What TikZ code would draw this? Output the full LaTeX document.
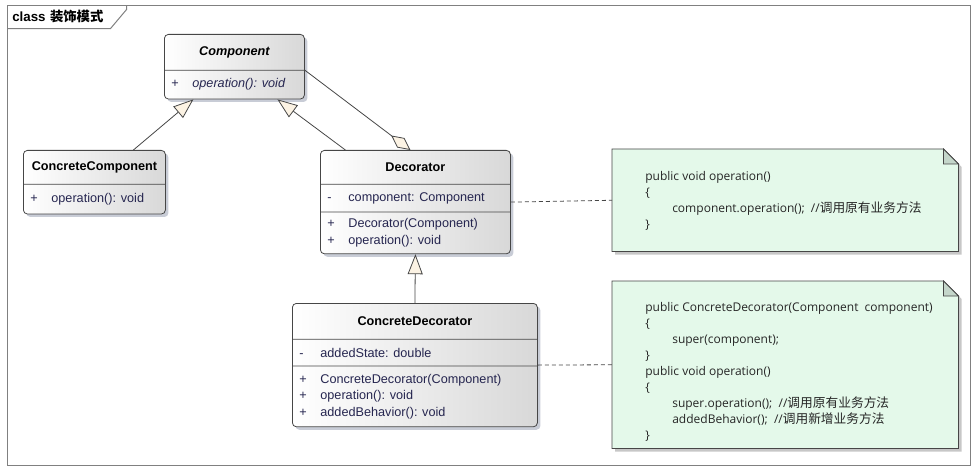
\documentclass[tikz,border=0pt]{standalone}
\usepackage{fontspec}
\setmainfont{Liberation Sans}
\newfontfamily\notefont{Open Sans}
\newfontfamily\cjk{Noto Sans CJK SC}
\newfontfamily\cjknote[Scale=1.06]{Noto Sans CJK SC}
\usepackage{xcolor}
\usepackage{tikz}
\usetikzlibrary{arrows.meta, positioning, shapes.multipart, shadows, backgrounds}

\definecolor{classgray}{RGB}{216,216,216}
\definecolor{classline}{RGB}{70,70,70}
\definecolor{shadowblue}{RGB}{200,204,214}
\definecolor{membertext}{RGB}{38,38,80}
\definecolor{notefill}{RGB}{228,249,234}
\definecolor{foldgreen}{RGB}{196,214,202}
\definecolor{genfill}{RGB}{252,243,228}
\definecolor{framegray}{RGB}{128,128,128}

% class compartments: width, height, content
\newcommand{\ctitle}[3]{\parbox[c][#2][c]{#1}{\centering\bfseries #3}}
\newcommand{\cpart}[3]{\parbox[c][#2][c]{#1}{\color{membertext}#3}}
\newcommand{\crow}[2]{\hspace*{5.25pt}\makebox[15.75pt][l]{#1}#2\par}
% note text: width, height, first baseline, lines
\newcommand{\notetext}[4]{\parbox[c][#2][t]{#1}{\leftskip=24.75pt\rule{0pt}{#3}#4}}
\newcommand{\ind}{\hspace*{20.25pt}}

\begin{document}
\begin{tikzpicture}[
    x=0.75pt, y=-0.75pt,
    umlclass/.style={rectangle split, rectangle split parts=#1,
                     draw=classline, line width=0.6pt, rounded corners=3pt,
                     inner sep=0pt, left color=white, right color=classgray,
                     drop shadow={shadow xshift=2.25pt, shadow yshift=-2.25pt,
                                  fill=shadowblue, opacity=1},
                     anchor=north west, font=\fontsize{9.5}{12.5}\selectfont},
    umlnote/.style={anchor=north west, inner sep=0pt, text=black!85,
                    font=\notefont\fontsize{9}{12}\selectfont},
    notebody/.style={draw=classline, line width=0.6pt, fill=notefill,
                     drop shadow={shadow xshift=2.25pt, shadow yshift=-2.25pt,
                                  fill=black!22, opacity=1}},
    notefold/.style={draw=classline, line width=0.6pt, fill=foldgreen},
    gen/.style={-{Triangle[length=15pt, width=11.25pt, fill=genfill]},
                draw=classline, line width=0.6pt},
    agg/.style={-{Diamond[length=18pt, width=9pt, fill=genfill]},
                draw=classline, line width=0.6pt},
    notelink/.style={draw=classline, line width=0.6pt,
                     dash pattern=on 3pt off 2.25pt},
    frameline/.style={draw=framegray, line width=0.75pt},
]
\useasboundingbox (0,0) rectangle (980,470);

% ── Frame ──────────────────────────────────────────────────────────
\node[frameline, anchor=north west, inner sep=0pt,
      minimum width=722.25pt, minimum height=345pt] (frame) at (7,5) {};
\node[anchor=north west, inner xsep=3.75pt, inner ysep=0pt,
      text width=69.75pt, align=left, minimum height=17.25pt,
      font=\fontsize{10}{12}\selectfont\bfseries]
      (tab) at (frame.north west) {class {\cjk 装饰模式}};
\draw[frameline] (tab.south west) -- (tab.south east) -- ++(16,-19) -- ++(0,-4);

% ── Classes ────────────────────────────────────────────────────────
\node[umlclass=2] (component) at (164,34)
    {\ctitle{105pt}{26.25pt}{\itshape Component}
     \nodepart{two}\cpart{105pt}{21pt}{\crow{+}{\itshape operation(): void}}};

\node[umlclass=2] (concomp) at (23,150)
    {\ctitle{106.5pt}{24.75pt}{ConcreteComponent}
     \nodepart{two}\cpart{106.5pt}{21.75pt}{\crow{+}{operation(): void}}};

\node[umlclass=3] (decorator) at (320,150)
    {\ctitle{142.5pt}{24.75pt}{Decorator}
     \nodepart{two}\cpart{142.5pt}{20.25pt}{\crow{-}{component: Component}}
     \nodepart{three}\cpart{142.5pt}{30.75pt}{\crow{+}{Decorator(Component)}%
                                               \crow{+}{operation(): void}}};

\node[umlclass=3] (concdec) at (292,303)
    {\ctitle{183.75pt}{26.25pt}{ConcreteDecorator}
     \nodepart{two}\cpart{183.75pt}{19.5pt}{\crow{-}{addedState: double}}
     \nodepart{three}\cpart{183.75pt}{45pt}{\crow{+}{ConcreteDecorator(Component)}%
                                            \crow{+}{operation(): void}%
                                            \crow{+}{addedBehavior(): void}}};

% ── Notes ──────────────────────────────────────────────────────────
\node[umlnote] (note1) at (612,149)
    {\notetext{259.5pt}{76.5pt}{23.25pt}{%
        public void operation()\\
        \{\\
        \ind component.operation();~ //{\cjknote 调用原有业务方法}\\
        \}}};

\node[umlnote] (note2) at (612,281)
    {\notetext{259.5pt}{125.25pt}{22.5pt}{%
        public ConcreteDecorator(Component~ component)\\
        \{\\
        \ind super(component);\\
        \}\\
        public void operation()\\
        \{\\
        \ind super.operation();~ //{\cjknote 调用原有业务方法}\\
        \ind addedBehavior();~ //{\cjknote 调用新增业务方法}\\
        \}}};

\begin{scope}[on background layer]
  \foreach \n in {note1, note2}
    \path[notebody] (\n.north west) -- ([xshift=-11.25pt]\n.north east)
        -- ([yshift=-11.25pt]\n.north east) -- (\n.south east)
        -- (\n.south west) -- cycle;
\end{scope}
\foreach \n in {note1, note2}
  \draw[notefold] ([xshift=-11.25pt]\n.north east)
      -- ([xshift=-11.25pt, yshift=-11.25pt]\n.north east)
      -- ([yshift=-11.25pt]\n.north east) -- cycle;

% ── Connectors ─────────────────────────────────────────────────────
\draw[gen] ([xshift=29.25pt]concomp.north) -- ([xshift=-30.75pt]component.south);
\draw[gen] ([xshift=-52.5pt]decorator.north) -- ([xshift=32.25pt]component.south);
\draw[gen] (concdec.north) -- (decorator.south);

\draw[agg] ([yshift=-2.6pt]component.east) -- ([xshift=-3.75pt]decorator.north);

\draw[notelink] (decorator.east) -- (note1.west);
\draw[notelink] (concdec.east) -- (note2.west);

\end{tikzpicture}
\end{document}
